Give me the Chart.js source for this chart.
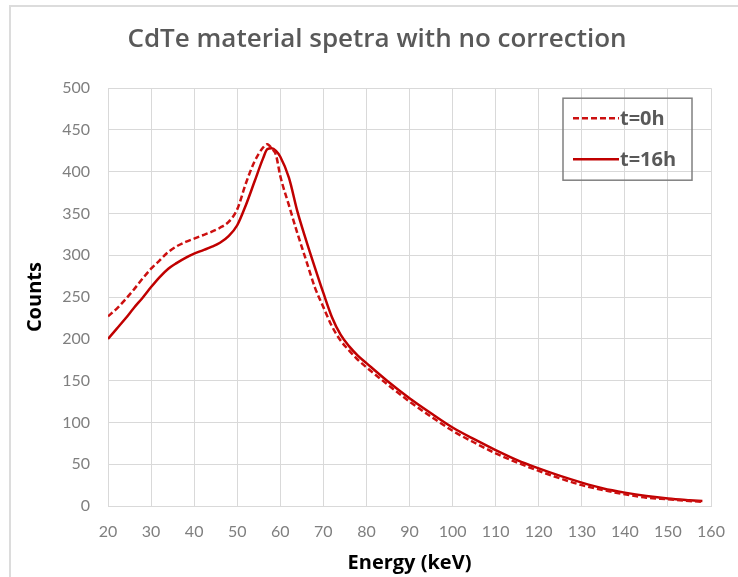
<!DOCTYPE html>
<html>
<head>
<meta charset="utf-8">
<script src="https://cdn.jsdelivr.net/npm/chart.js@4.4.0/dist/chart.umd.min.js"></script>
<style>
  html, body { margin: 0; padding: 0; background: #fff; }
  #wrap { width: 738px; height: 577px; position: relative; }
</style>
</head>
<body>
<div id="wrap"><canvas id="spectra"></canvas></div>
<script>
// --- DATA ---
const energy = [20, 22, 24, 26, 28, 30, 32, 34, 36, 38, 40, 42, 44, 46, 48, 50, 52, 54, 56,
                57, 58, 59, 60,
                62, 64, 66, 68, 70, 72, 74, 76, 78, 80,
                85, 90, 95, 100, 105, 110, 115, 120, 125, 130, 135, 140, 145, 150, 155,
                158];
const countsT0 = [227, 236, 247, 259, 272, 284, 294, 304, 311, 316, 320, 324, 328, 333, 340, 355, 386, 412, 429,
                  433, 428, 420, 395,
                  360, 326, 294, 262, 238, 215, 198, 186, 175, 166,
                  145, 125, 107, 90, 76, 63, 52, 42, 33, 25, 19, 14, 10, 8, 6,
                  5];
const countsT16 = [200, 212, 224, 237, 249, 262, 274, 284, 291, 297, 302, 306, 310, 315, 323, 336, 360, 388, 416,
                   427, 428, 425, 418,
                   393, 352, 318, 286, 255, 226, 205, 191, 180, 171,
                   149, 129, 111, 94, 80, 67, 55, 45, 36, 28, 21, 16, 12, 9, 7,
                   6];
const seriesLabels = ['t=0h', 't=16h'];
const chartTitle = 'CdTe material spetra with no correction';
const xAxisTitle = 'Energy (keV)';
const yAxisTitle = 'Counts';
const xRange = { min: 20, max: 160, step: 10 };
const yRange = { min: 0, max: 500, step: 50 };

const toPoints = (xs, ys) => xs.map((x, i) => ({ x, y: ys[i] }));

// outer chart frame (light grey lines on left and top like the source)
const frame = {
    id: 'frame',
    beforeDraw(chart) {
        const { ctx, width, height } = chart;
        ctx.save();
        ctx.strokeStyle = '#dcdcdc';
        ctx.lineWidth = 2;
        ctx.beginPath();
        ctx.moveTo(10, height);
        ctx.lineTo(10, 6);
        ctx.lineTo(width, 6);
        ctx.stroke();
        ctx.restore();
    }
};

// legend box drawn inside the plot area, top right
const insideLegend = {
    id: 'insideLegend',
    afterDatasetsDraw(chart) {
        const { ctx, chartArea } = chart;
        const w = 129, h = 82;
        const x = chartArea.right - 19 - w;
        const y = chartArea.top + 10;
        ctx.save();
        ctx.strokeStyle = '#808080';
        ctx.lineWidth = 1.5;
        ctx.strokeRect(x, y, w, h);
        chart.data.datasets.forEach((ds, i) => {
            const ly = y + 20 + i * 41;
            ctx.beginPath();
            ctx.setLineDash(ds.borderDash || []);
            ctx.strokeStyle = ds.borderColor;
            ctx.lineWidth = ds.borderWidth;
            ctx.moveTo(x + 10, ly);
            ctx.lineTo(x + 56, ly);
            ctx.stroke();
            ctx.setLineDash([]);
            ctx.fillStyle = '#595959';
            ctx.font = 'bold 20px "Open Sans"';
            ctx.textBaseline = 'middle';
            ctx.fillText(ds.label, x + 57, ly + 1);
        });
        ctx.restore();
    }
};

const ctx = document.getElementById('spectra').getContext('2d');
new Chart(ctx, {
    type: 'line',
    data: {
        datasets: [
            {
                label: seriesLabels[0],
                data: toPoints(energy, countsT0),
                borderColor: '#cc1010',
                borderWidth: 2.5,
                borderDash: [6, 3],
                pointRadius: 0,
                cubicInterpolationMode: 'monotone',
                fill: false
            },
            {
                label: seriesLabels[1],
                data: toPoints(energy, countsT16),
                borderColor: '#c00000',
                borderWidth: 2.5,
                pointRadius: 0,
                cubicInterpolationMode: 'monotone',
                fill: false
            }
        ]
    },
    options: {
        responsive: true,
        maintainAspectRatio: false,
        animation: false,
        layout: { padding: { top: 6, left: 16, right: 0, bottom: 0 } },
        plugins: {
            legend: { display: false },
            tooltip: { enabled: false },
            title: {
                display: true,
                text: chartTitle,
                color: '#595959',
                font: { family: '"Open Sans"', size: 26, weight: '600', lineHeight: 1.2 },
                padding: { top: 18, bottom: 33 }
            }
        },
        scales: {
            x: {
                type: 'linear',
                min: xRange.min, max: xRange.max,
                grid: { color: '#d9d9d9', lineWidth: 1, drawTicks: false },
                border: { display: true, color: '#d9d9d9' },
                ticks: {
                    stepSize: xRange.step,
                    color: '#7f7f7f',
                    padding: 16,
                    maxRotation: 0,
                    font: { family: 'Lato', size: 16 }
                },
                title: {
                    display: true,
                    text: xAxisTitle,
                    color: '#000',
                    font: { family: '"Open Sans"', size: 20, weight: 'bold', lineHeight: 1.2 },
                    padding: { top: 0, bottom: 2 }
                },
                afterFit(scale) { scale.height = 71; scale.paddingRight = 27; }
            },
            y: {
                min: yRange.min, max: yRange.max,
                grid: { color: '#d9d9d9', lineWidth: 1, drawTicks: false },
                border: { display: true, color: '#d9d9d9' },
                ticks: {
                    stepSize: yRange.step,
                    color: '#7f7f7f',
                    padding: 18,
                    font: { family: 'Lato', size: 16 }
                },
                title: {
                    display: true,
                    text: yAxisTitle,
                    color: '#000',
                    font: { family: '"Open Sans"', size: 20, weight: 'bold', lineHeight: 1.2 },
                    padding: { top: 7, bottom: 0 }
                },
                afterFit(scale) { scale.width = 92; }
            }
        }
    },
    plugins: [frame, insideLegend]
});
</script>
</body>
</html>
